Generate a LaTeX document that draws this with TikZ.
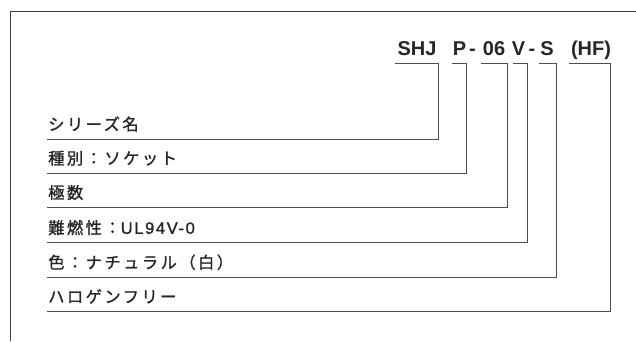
\documentclass[tikz,border=0pt]{standalone}
\usepackage{fontspec}
\setmainfont{Liberation Sans}
\newfontfamily\jpfont[LetterSpace=15,FakeBold=1.2]{Noto Sans CJK JP}
\newfontfamily\latfont[LetterSpace=10,FakeBold=1.2]{Liberation Sans}
\newfontfamily\codefont{Liberation Sans}
\begin{document}
\begin{tikzpicture}[x=1pt,y=-1pt,
  frame/.style={draw=black!75,line width=0.9pt},
  conn/.style={draw=black!70,line width=0.9pt},
  codetxt/.style={anchor=base,inner sep=0pt,font=\codefont\bfseries\fontsize{20}{22}\selectfont,text=black!85},
  lbl/.style={anchor=base west,inner sep=0pt,font=\jpfont\fontsize{16.3}{18}\selectfont,text=black!85}]
\useasboundingbox (0,0) rectangle (636,341);
% frame
\coordinate (fb) at (10.5,341);
\coordinate (fc) at (10.5,11);
\coordinate (fr) at (636,11);
\draw[frame] (fb) -- (fc) -- (fr);
% code pieces
\node[codetxt] (c1) at (417,55) {SHJ};
\node[codetxt] (c2) at (459.5,55) {P};
\node[codetxt] (d1) at (472.5,55) {-};
\node[codetxt] (c3) at (494,55) {06};
\node[codetxt] (c4) at (518.5,55) {V};
\node[codetxt] (d2) at (532,55) {-};
\node[codetxt] (c5) at (547,55) {S};
\node[codetxt] (c6) at (591,55) {(HF)};
% labels
\node[lbl] (l1) at (48,130.3) {シリーズ名};
\node[lbl] (l2) at (48,164.3) {種別：ソケット};
\node[lbl] (l3) at (48,198.7) {極数};
\node[lbl] (l4) at (48,233.8) {難燃性：{\latfont\fontsize{16.5}{18}\selectfont UL94V-0}};
\node[lbl] (l5) at (48,268.5) {色：ナチュラル（白）};
\node[lbl] (l6) at (48,302.7) {ハロゲンフリー};
% bracket starts and underline ends
\coordinate (t1) at (395,63.3);  \coordinate (u1) at (47,139.3);
\coordinate (t2) at (451.7,63.3); \coordinate (u2) at (47,173.3);
\coordinate (t3) at (481,63.3);  \coordinate (u3) at (47,207.7);
\coordinate (t4) at (513.3,63.3); \coordinate (u4) at (47,242.8);
\coordinate (t5) at (539.3,63.3); \coordinate (u5) at (47,277.5);
\coordinate (t6) at (569.3,63.3); \coordinate (u6) at (47,311.7);
\draw[conn] (t1) -- ++(43.7,0) |- (u1);
\draw[conn] (t2) -- ++(14.3,0) |- (u2);
\draw[conn] (t3) -- ++(26.7,0) |- (u3);
\draw[conn] (t4) -- ++(14.4,0) |- (u4);
\draw[conn] (t5) -- ++(17.4,0) |- (u5);
\draw[conn] (t6) -- ++(41,0) |- (u6);
\end{tikzpicture}
\end{document}
